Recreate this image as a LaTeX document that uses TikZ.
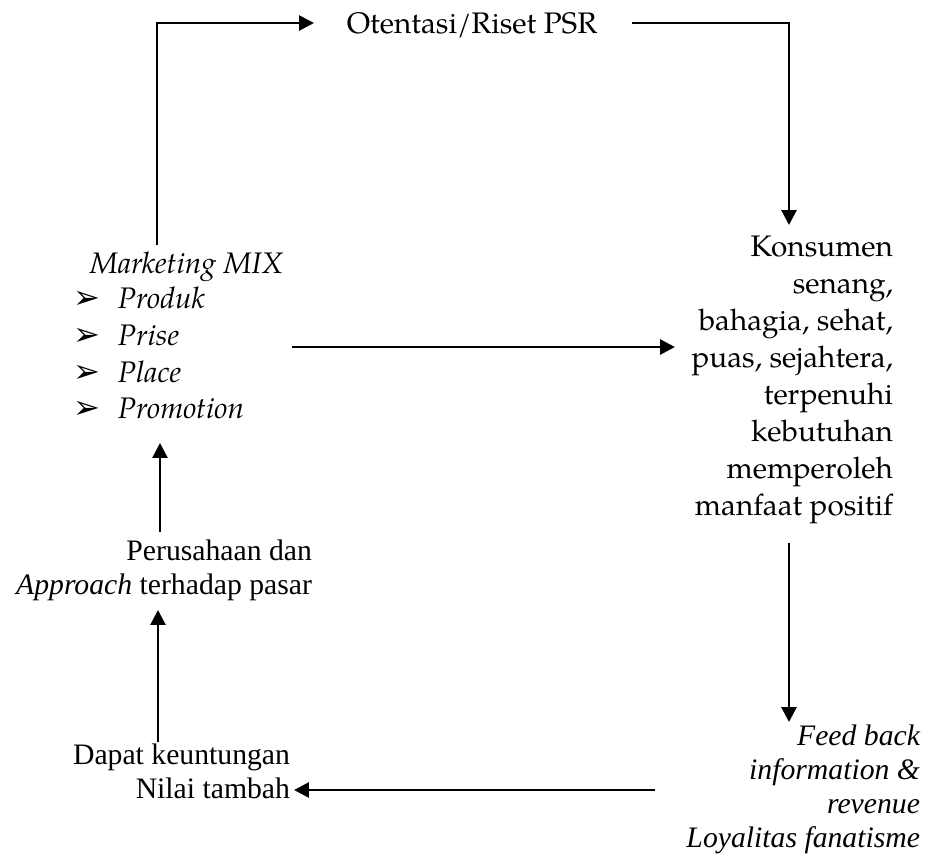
\documentclass[tikz,border=0pt]{standalone}
\usepackage{fontspec}
\setmainfont{Liberation Serif}
\newfontfamily\pal{texgyrepagella}[Extension=.otf,UprightFont=*-regular,ItalicFont=*-italic,BoldFont=*-bold]
\newfontfamily\dejavu{DejaVu Sans}
\usetikzlibrary{arrows.meta}
\begin{document}
\begin{tikzpicture}[x=0.404pt,y=-0.404pt,
  conn/.style={line width=1.1pt,-{Triangle[length=6pt,width=6pt]}},
  pal/.style={inner sep=0pt,outer sep=0pt,font=\pal\fontsize{12}{14.9}\selectfont},
  tms/.style={inner sep=0pt,outer sep=0pt,font=\fontsize{12}{13.7}\selectfont},
  bul/.style={inner sep=0pt,outer sep=0pt,font=\dejavu\fontsize{13}{14}\selectfont}]
\useasboundingbox (0,0) rectangle (927,855);

% texts
\node[pal,anchor=base] (psr) at (472,33) {Otentasi/Riset PSR};
\node[pal,anchor=base west] (mm) at (90,273) {\itshape Marketing MIX};
\node[bul,anchor=base west] (b1) at (74,308) {➢};
\node[bul,anchor=base west] (b2) at (74,345) {➢};
\node[bul,anchor=base west] (b3) at (74,382) {➢};
\node[bul,anchor=base west] (b4) at (74,418) {➢};
\node[pal,anchor=base west] (m1) at (118,308) {\itshape Produk};
\node[pal,anchor=base west] (m2) at (118,345) {\itshape Prise};
\node[pal,anchor=base west] (m3) at (118,382) {\itshape Place};
\node[pal,anchor=base west] (m4) at (118,418) {\itshape Promotion};
\node[pal,align=right,anchor=base east] (kons) at (893,515)
  {Konsumen\\senang,\\bahagia, sehat,\\puas, sejahtera,\\terpenuhi\\kebutuhan\\memperoleh\\manfaat positif};
\node[tms,align=right,anchor=base east] (per) at (312,594)
  {Perusahaan dan\\\textit{Approach} terhadap pasar};
\node[tms,align=right,anchor=base east] (dap) at (290,798)
  {Dapat keuntungan\\Nilai tambah};
\node[tms,align=right,anchor=base east,font=\itshape\fontsize{12}{13.7}\selectfont] (fb) at (920,847)
  {Feed back\\information \&\\revenue\\Loyalitas fanatisme};

% connector points
\coordinate (mmtop) at (157,245);
\coordinate (tl) at (157,23);
\coordinate (psrin) at (314,23);
\coordinate (psrout) at (632,23);
\coordinate (tr) at (789,23);
\coordinate (konsin) at (789,225);
\coordinate (mmout) at (292,347);
\coordinate (konsleft) at (675,347);
\coordinate (konsbot) at (789,543);
\coordinate (fbtop) at (789,722);
\coordinate (fbleft) at (655,790);
\coordinate (dapright) at (294,790);
\coordinate (daptop) at (158,742);
\coordinate (perbot) at (158,610);
\coordinate (pertop) at (160,532);
\coordinate (mmbot) at (160,443);

\draw[conn] (mmtop) -- (tl) -- (psrin);
\draw[conn] (psrout) -- (tr) -- (konsin);
\draw[conn] (mmout) -- (konsleft);
\draw[conn] (konsbot) -- (fbtop);
\draw[conn] (fbleft) -- (dapright);
\draw[conn] (daptop) -- (perbot);
\draw[conn] (pertop) -- (mmbot);
\end{tikzpicture}
\end{document}
